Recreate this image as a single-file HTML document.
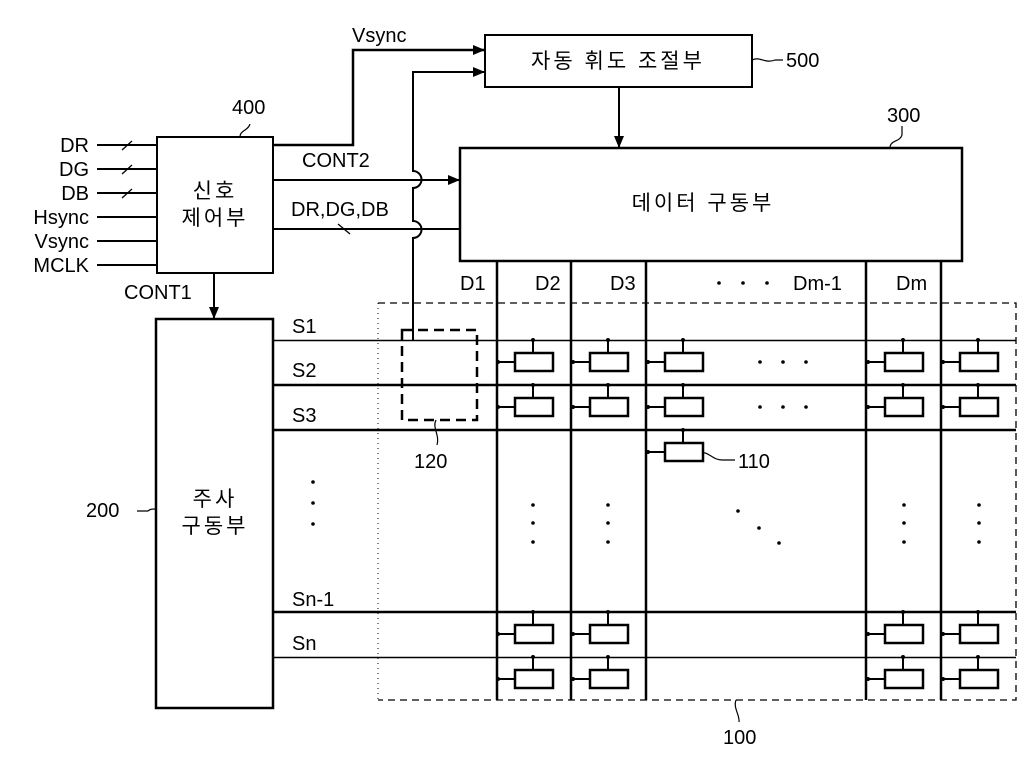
<!DOCTYPE html>
<html><head><meta charset="utf-8"><style>
html,body{margin:0;padding:0;background:#fff}
svg{display:block}
text{font-family:"Liberation Sans","Noto Sans CJK KR",sans-serif;fill:#000}
</style></head><body>
<svg width="1023" height="767" viewBox="0 0 1023 767" xmlns="http://www.w3.org/2000/svg">
<defs>
<marker id="a" markerWidth="12" markerHeight="10" refX="11" refY="5" orient="auto" markerUnits="userSpaceOnUse"><path d="M0,0 L12,5 L0,10 z" fill="#000"/></marker>
<g id="cell"><line x1="0" y1="0" x2="0" y2="13" stroke="#000" stroke-width="2"/><rect x="-18" y="13" width="38" height="18" fill="#fff" stroke="#000" stroke-width="2.5"/><line x1="-36" y1="22" x2="-18" y2="22" stroke="#000" stroke-width="2"/><circle cx="-35" cy="22" r="2"/><circle cx="0" cy="0" r="2"/></g>
</defs>
<g stroke="#000" fill="none">
<rect x="485" y="35" width="267" height="52" stroke-width="2"/>
<rect x="157" y="137" width="116" height="136" stroke-width="2"/>
<rect x="460" y="148" width="502" height="113" stroke-width="2.5"/>
<rect x="156" y="319" width="117" height="389" stroke-width="2.5"/>
<path d="M378,303 H1016 V700 H378" stroke-width="1.3" stroke-dasharray="7,5"/>
<line x1="378" y1="303" x2="378" y2="700" stroke-width="1" stroke-dasharray="1,4"/>
<g stroke-width="2">
<line x1="97" y1="145" x2="157" y2="145"/><line x1="97" y1="169" x2="157" y2="169"/>
<line x1="97" y1="193" x2="157" y2="193"/><line x1="97" y1="217" x2="157" y2="217"/>
<line x1="97" y1="241" x2="157" y2="241"/><line x1="97" y1="265" x2="157" y2="265"/>
</g>
<g stroke-width="1.3"><line x1="122" y1="150" x2="132" y2="141"/><line x1="122" y1="174" x2="132" y2="165"/><line x1="122" y1="198" x2="132" y2="189"/></g>
<path d="M273,145 H353 V50 H484" stroke-width="2.5" marker-end="url(#a)"/>
<path d="M413,340 V238 a8,8 0 0 0 0,-17 V188 a8,8 0 0 0 0,-17 V72 H484" stroke-width="2" marker-end="url(#a)"/>
<line x1="273" y1="180" x2="459" y2="180" stroke-width="2" marker-end="url(#a)"/>
<line x1="273" y1="229" x2="460" y2="229" stroke-width="2"/>
<line x1="338" y1="224" x2="350" y2="234" stroke-width="1.3"/>
<line x1="619" y1="87" x2="619" y2="147" stroke-width="2" marker-end="url(#a)"/>
<line x1="214" y1="273" x2="214" y2="318" stroke-width="2" marker-end="url(#a)"/>
<g stroke-width="2.5">
<line x1="497" y1="261" x2="497" y2="700"/><line x1="571" y1="261" x2="571" y2="700"/>
<line x1="646" y1="261" x2="646" y2="700"/><line x1="866" y1="261" x2="866" y2="700"/>
<line x1="941" y1="261" x2="941" y2="700"/>
</g>
<line x1="273" y1="340.5" x2="1016" y2="340.5" stroke-width="1.5"/>
<line x1="273" y1="385" x2="1016" y2="385" stroke-width="2.5"/>
<line x1="273" y1="430" x2="1016" y2="430" stroke-width="2.5"/>
<line x1="273" y1="612" x2="1016" y2="612" stroke-width="2.5"/>
<line x1="273" y1="657.5" x2="1016" y2="657.5" stroke-width="1.5"/>
<rect x="402" y="330" width="75" height="90" stroke-width="2.5" stroke-dasharray="10,6"/>
<g stroke-width="1.2">
<path d="M752,60 C760,56 765,64 775,60 H783"/>
<path d="M890,148 C890,140 900,142 902,135 V126"/>
<path d="M240,137 C240,130 248,131 250,124"/>
<path d="M137,511 H148 C150,509 152,509 156,509"/>
<path d="M436,420 C432,428 440,435 437,445"/>
<path d="M696,452 C710,451 712,460 722,460 H735"/>
<path d="M736,700 C733,708 740,715 739,722"/>
</g>
</g>
<g>
<use href="#cell" x="533" y="340"/><use href="#cell" x="608" y="340"/><use href="#cell" x="683" y="340"/><use href="#cell" x="903" y="340"/><use href="#cell" x="978" y="340"/>
<use href="#cell" x="533" y="385"/><use href="#cell" x="608" y="385"/><use href="#cell" x="683" y="385"/><use href="#cell" x="903" y="385"/><use href="#cell" x="978" y="385"/>
<use href="#cell" x="683" y="430"/>
<use href="#cell" x="533" y="612"/><use href="#cell" x="608" y="612"/><use href="#cell" x="903" y="612"/><use href="#cell" x="978" y="612"/>
<use href="#cell" x="533" y="657"/><use href="#cell" x="608" y="657"/><use href="#cell" x="903" y="657"/><use href="#cell" x="978" y="657"/>
</g>
<g fill="#000">
<circle cx="760" cy="362" r="1.8"/><circle cx="783" cy="362" r="1.8"/><circle cx="806" cy="362" r="1.8"/>
<circle cx="760" cy="407" r="1.8"/><circle cx="783" cy="407" r="1.8"/><circle cx="806" cy="407" r="1.8"/>
<circle cx="313" cy="482" r="1.8"/><circle cx="313" cy="503" r="1.8"/><circle cx="313" cy="524" r="1.8"/>
<circle cx="533" cy="505" r="1.8"/><circle cx="533" cy="523" r="1.8"/><circle cx="533" cy="542" r="1.8"/>
<circle cx="608" cy="505" r="1.8"/><circle cx="608" cy="523" r="1.8"/><circle cx="608" cy="542" r="1.8"/>
<circle cx="904" cy="505" r="1.8"/><circle cx="904" cy="523" r="1.8"/><circle cx="904" cy="542" r="1.8"/>
<circle cx="979" cy="505" r="1.8"/><circle cx="979" cy="523" r="1.8"/><circle cx="979" cy="542" r="1.8"/>
<circle cx="738" cy="511" r="1.8"/><circle cx="759" cy="528" r="1.8"/><circle cx="779" cy="543" r="1.8"/>
<circle cx="719" cy="283" r="1.8"/><circle cx="743" cy="283" r="1.8"/><circle cx="767" cy="283" r="1.8"/>
</g>
<g font-size="20">
<text x="89" y="152" text-anchor="end">DR</text>
<text x="89" y="176" text-anchor="end">DG</text>
<text x="89" y="200" text-anchor="end">DB</text>
<text x="89" y="224" text-anchor="end">Hsync</text>
<text x="89" y="248" text-anchor="end">Vsync</text>
<text x="89" y="272" text-anchor="end">MCLK</text>
<text x="352" y="42">Vsync</text>
<text x="232" y="114">400</text>
<text x="786" y="67">500</text>
<text x="887" y="122">300</text>
<text x="302" y="167">CONT2</text>
<text x="291" y="216">DR,DG,DB</text>
<text x="124" y="299">CONT1</text>
<text x="460" y="290">D1</text>
<text x="535" y="290">D2</text>
<text x="610" y="290">D3</text>
<text x="793" y="290">Dm-1</text>
<text x="896" y="290">Dm</text>
<text x="292" y="333">S1</text>
<text x="292" y="377">S2</text>
<text x="292" y="422">S3</text>
<text x="292" y="606">Sn-1</text>
<text x="292" y="650">Sn</text>
<text x="86" y="517">200</text>
<text x="414" y="468">120</text>
<text x="738" y="468">110</text>
<text x="723" y="744">100</text>
</g>
<g font-size="21">
<text x="618" y="68" text-anchor="middle" letter-spacing="3">자동 휘도 조절부</text>
<text x="215" y="198" text-anchor="middle" letter-spacing="3">신호</text>
<text x="215" y="225" text-anchor="middle" letter-spacing="3">제어부</text>
<text x="703" y="210" text-anchor="middle" letter-spacing="3">데이터 구동부</text>
<text x="215" y="506" text-anchor="middle" letter-spacing="3">주사</text>
<text x="215" y="533" text-anchor="middle" letter-spacing="3">구동부</text>
</g>
</svg>
</body></html>
